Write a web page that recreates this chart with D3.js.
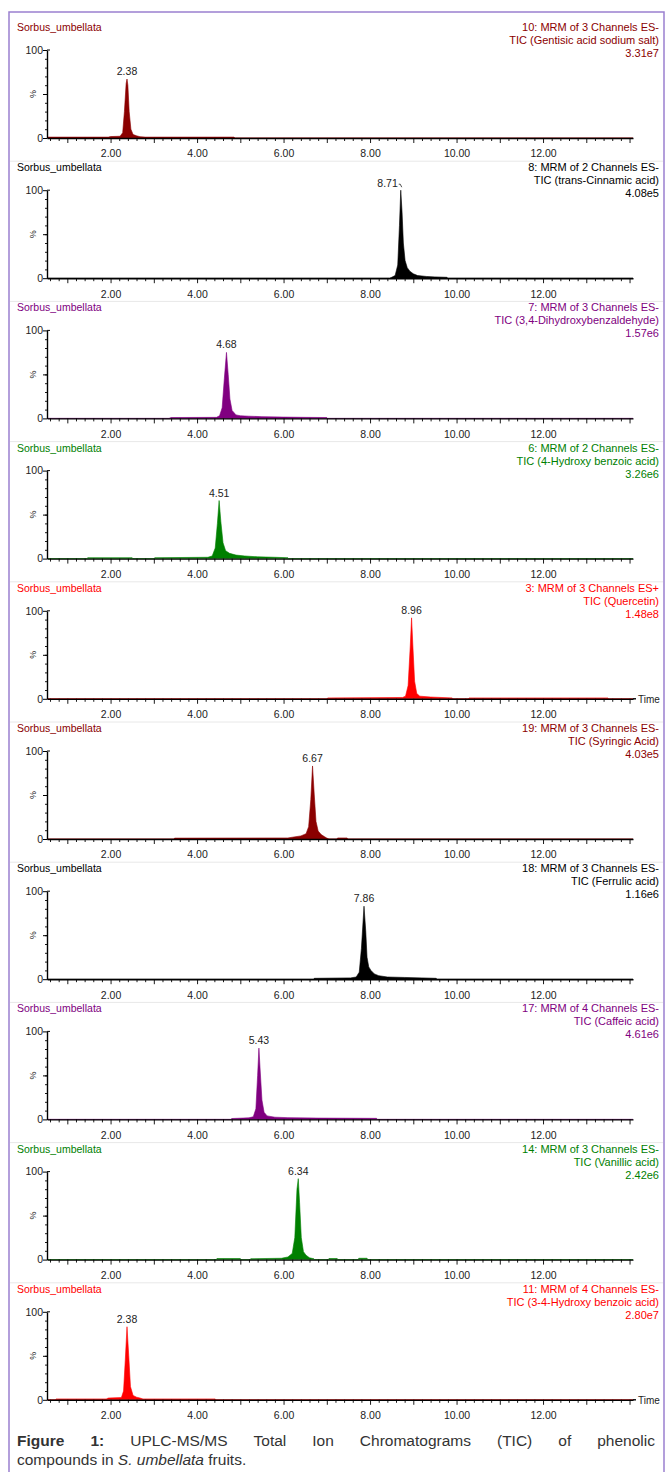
<!DOCTYPE html>
<html>
<head>
<meta charset="utf-8">
<script src="https://cdn.jsdelivr.net/npm/d3@7"></script>
<style>
body { margin: 0; background: #fff; }
svg { display: block; font-family: "Liberation Sans", Arial, sans-serif; }
</style>
</head>
<body>
<svg id="chart" width="665" height="1472"></svg>
<script>
// sample name shown top-left of each trace
const sampleName = "Sorbus_umbellata";

// right-hand header lines, one per trace
const channelLines = [
    "10: MRM of 3 Channels ES-",
    "8: MRM of 2 Channels ES-",
    "7: MRM of 3 Channels ES-",
    "6: MRM of 2 Channels ES-",
    "3: MRM of 3 Channels ES+",
    "19: MRM of 3 Channels ES-",
    "18: MRM of 3 Channels ES-",
    "17: MRM of 4 Channels ES-",
    "14: MRM of 3 Channels ES-",
    "11: MRM of 4 Channels ES-"
];
const compoundLines = [
    "TIC (Gentisic acid sodium salt)",
    "TIC (trans-Cinnamic acid)",
    "TIC (3,4-Dihydroxybenzaldehyde)",
    "TIC (4-Hydroxy benzoic acid)",
    "TIC (Quercetin)",
    "TIC (Syringic Acid)",
    "TIC (Ferrulic acid)",
    "TIC (Caffeic acid)",
    "TIC (Vanillic acid)",
    "TIC (3-4-Hydroxy benzoic acid)"
];
const intensityLabels = ["3.31e7", "4.08e5", "1.57e6", "3.26e6", "1.48e8", "4.03e5", "1.16e6", "4.61e6", "2.42e6", "2.80e7"];

// retention time of the labelled peak
const peakTimes = [2.38, 8.71, 4.68, 4.51, 8.96, 6.67, 7.86, 5.43, 6.34, 2.38];

// x axis
const timeRange = [0.53, 14.08];
const timeTickLabels = [2, 4, 6, 8, 10, 12];
const timeAxisPanels = [4, 9]; // traces that carry the "Time" label

// chromatograms: [time (min), relative intensity (%)]
const trace1 = [[0.53,0],[0.55,1],[1.95,1],[2.0,1.6],[2.22,2],[2.28,6],[2.32,30],[2.36,62],[2.38,67],[2.40,60],[2.43,30],[2.47,10],[2.52,4],[2.6,2.5],[2.68,1.5],[2.8,1],[4.85,1],[4.88,0],[14.08,0]];
const trace2 = [[0.53,0],[8.45,0],[8.5,1],[8.58,3],[8.64,15],[8.68,60],[8.71,100],[8.74,75],[8.77,40],[8.81,20],[8.86,12],[8.92,8],[9.0,5],[9.1,3],[9.3,2],[9.5,1.5],[9.78,1],[9.8,0],[14.08,0]];
const trace3 = [[0.53,0],[3.35,0],[3.4,1],[4.45,1.2],[4.52,3],[4.58,12],[4.63,45],[4.68,75],[4.72,50],[4.76,22],[4.81,9],[4.9,4],[5.0,3],[5.2,2.5],[5.5,2],[6.0,1.5],[6.5,1.2],[7.0,1],[7.02,0],[14.08,0]];
const trace4 = [[0.53,0],[1.45,0],[1.47,1],[2.5,1],[2.52,0],[3.0,0],[3.02,1],[4.25,1.5],[4.35,3],[4.42,12],[4.47,40],[4.51,66],[4.55,42],[4.6,18],[4.66,9],[4.75,6],[4.9,4],[5.1,3],[5.4,2],[5.8,1.5],[6.1,1],[6.12,0],[14.08,0]];
const trace5 = [[0.53,0],[7.0,0],[7.02,1],[8.75,1.5],[8.82,3],[8.88,15],[8.93,60],[8.96,92],[8.99,60],[9.03,20],[9.08,6],[9.15,3],[9.4,2],[9.9,1],[9.92,0],[10.27,0],[10.29,1],[13.5,1],[13.52,0],[14.08,0]];
const trace6 = [[0.53,0],[3.46,0],[3.48,1],[6.1,1.2],[6.2,2],[6.4,3.5],[6.52,6],[6.58,14],[6.63,45],[6.67,83],[6.71,50],[6.75,20],[6.8,9],[6.87,5],[6.95,2.5],[7.0,1],[7.05,0],[7.23,0],[7.25,1.2],[7.47,1.2],[7.49,0],[14.08,0]];
const trace7 = [[0.53,0],[6.69,0],[6.71,1],[7.55,1.5],[7.68,2.5],[7.75,8],[7.8,35],[7.86,83],[7.9,55],[7.93,25],[7.97,14],[8.02,10],[8.1,6],[8.2,4],[8.4,2.5],[8.8,2],[9.2,1.5],[9.53,1],[9.55,0],[14.08,0]];
const trace8 = [[0.53,0],[4.78,0],[4.8,1],[5.2,1.8],[5.3,3],[5.36,12],[5.4,50],[5.43,81],[5.46,55],[5.5,22],[5.55,8],[5.62,4],[5.8,2.5],[6.1,2],[6.8,1.5],[8.15,1.2],[8.17,0],[14.08,0]];
const trace9 = [[0.53,0],[4.44,0],[4.46,1.2],[5.0,1.2],[5.02,0],[5.22,0],[5.24,1],[5.95,1.5],[6.1,3],[6.2,7],[6.26,25],[6.31,80],[6.34,92],[6.37,65],[6.41,25],[6.46,9],[6.52,5],[6.6,2],[6.7,1],[6.72,0],[7.03,0],[7.05,1.2],[7.24,1.2],[7.26,0],[7.72,0],[7.74,1.5],[7.93,1.5],[7.95,0],[14.08,0]];
const trace10 = [[0.53,0],[0.72,0],[0.74,1],[1.9,1],[1.95,2],[2.25,2.5],[2.3,10],[2.34,45],[2.38,83],[2.42,50],[2.46,15],[2.52,5],[2.6,3],[2.68,2],[2.75,1],[4.42,1],[4.44,0],[14.08,0]];
const traces = [trace1, trace2, trace3, trace4, trace5, trace6, trace7, trace8, trace9, trace10];

// trace colours
const colours = ["#8b0000", "#000000", "#800080", "#008000", "#ff0000",
                 "#8b0000", "#000000", "#800080", "#008000", "#ff0000"];

const svg = d3.select("#chart");

// outer frame
svg.append("path")
    .attr("d", "M 9,1472 V 12 H 664 V 1472")
    .attr("fill", "none")
    .attr("stroke", "#9b80cf")
    .attr("stroke-width", 1.5);

const panelStep = 140.2;
const x = d3.scaleLinear().domain(timeRange).range([47, 633]);
const y = d3.scaleLinear().domain([0, 100]).range([138, 50]);

const majorTicks = d3.range(1, 15);
const minorTicks = d3.range(1, 70).map(k => k * 0.2).filter(t => t > timeRange[0] && t < timeRange[1] && Math.abs(t - Math.round(t)) > 0.01);

traces.forEach((trace, i) => {
    const col = colours[i];
    const g = svg.append("g").attr("transform", `translate(0,${i * panelStep})`);

    // faint separator between panels
    if (i > 0) {
        g.append("line")
            .attr("x1", 10).attr("x2", 663)
            .attr("y1", 21).attr("y2", 21)
            .attr("stroke", "#e8e8e8")
            .attr("stroke-width", 1);
    }

    // chromatogram
    const area = d3.area()
        .x(d => x(d[0]))
        .y0(y(0))
        .y1(d => y(d[1]));
    g.append("path")
        .datum(trace)
        .attr("d", area)
        .attr("fill", col)
        .attr("stroke", col)
        .attr("stroke-width", 0.6)
        .attr("stroke-linejoin", "round");

    // x axis: minor ticks
    g.append("g")
        .attr("transform", `translate(0,${y(0)})`)
        .call(d3.axisBottom(x).tickValues(minorTicks).tickSize(3).tickSizeOuter(0).tickFormat(""))
        .call(a => a.select(".domain").remove())
        .selectAll("line").attr("stroke", "#000").attr("stroke-width", 0.9);

    // x axis: major ticks and labels
    const xa = g.append("g")
        .attr("transform", `translate(0,${y(0)})`)
        .call(d3.axisBottom(x)
            .tickValues(majorTicks)
            .tickSize(5)
            .tickSizeOuter(0)
            .tickFormat(d => timeTickLabels.includes(d) ? d3.format(".2f")(d) : ""));
    xa.select(".domain").attr("stroke-width", 1.4);
    xa.selectAll("line").attr("stroke-width", 0.9);
    xa.selectAll("text")
        .attr("y", 12)
        .style("font-size", "10.5px")
        .style("fill", "#222");

    // y axis
    g.append("g")
        .attr("transform", `translate(${x(timeRange[0])},0)`)
        .call(d3.axisLeft(y).tickValues(d3.range(10, 100, 10)).tickSize(2).tickSizeOuter(0).tickFormat(""))
        .call(a => a.select(".domain").remove())
        .selectAll("line").attr("stroke-width", 0.9);
    const ya = g.append("g")
        .attr("transform", `translate(${x(timeRange[0])},0)`)
        .call(d3.axisLeft(y).tickValues([0, 50, 100]).tickSize(4).tickSizeOuter(0)
            .tickFormat(d => d === 50 ? "" : d));
    ya.select(".domain").attr("stroke-width", 1.4);
    ya.selectAll("text")
        .attr("x", -4)
        .style("font-size", "10.5px")
        .style("fill", "#222");
    // little stub at the top of the y axis
    g.append("line")
        .attr("x1", x(timeRange[0])).attr("x2", x(timeRange[0]) + 3)
        .attr("y1", y(100)).attr("y2", y(100))
        .attr("stroke", "#000").attr("stroke-width", 1);

    g.append("text")
        .attr("transform", `translate(33,${y(50)}) rotate(-90)`)
        .attr("text-anchor", "middle")
        .attr("dy", "0.35em")
        .style("font-size", "9px")
        .style("fill", "#222")
        .text("%");

    // "Time" label on the bottom trace of each group
    if (timeAxisPanels.includes(i)) {
        g.append("line")
            .attr("x1", x(timeRange[1])).attr("x2", 636)
            .attr("y1", y(0)).attr("y2", y(0))
            .attr("stroke", "#000").attr("stroke-width", 1.4);
        g.append("text")
            .attr("x", 638)
            .attr("y", y(0) + 4)
            .style("font-size", "10px")
            .style("fill", "#222")
            .text("Time");
    }

    // headers
    g.append("text")
        .attr("x", 17)
        .attr("y", 31)
        .style("font-size", "10.5px")
        .style("fill", col)
        .text(sampleName);

    [channelLines[i], compoundLines[i], intensityLabels[i]].forEach((line, k) => {
        g.append("text")
            .attr("x", 659)
            .attr("y", 31 + k * 13)
            .attr("text-anchor", "end")
            .style("font-size", "11px")
            .style("fill", col)
            .text(line);
    });

    // peak label
    const pt = peakTimes[i];
    const top = d3.max(trace, d => d[1]);
    if (top >= 99) {
        // label pushed left with a leader line
        g.append("text")
            .attr("x", x(pt) - 3)
            .attr("y", y(top) - 3)
            .attr("text-anchor", "end")
            .style("font-size", "10.5px")
            .style("fill", "#222")
            .text(pt.toFixed(2));
        g.append("path")
            .attr("d", `M ${x(pt) - 2},${y(top) - 6} H ${x(pt) - 0.5} L ${x(pt) + 1},${y(top) - 3}`)
            .attr("fill", "none")
            .attr("stroke", "#222")
            .attr("stroke-width", 0.8);
    } else {
        g.append("text")
            .attr("x", x(pt))
            .attr("y", y(top) - 4)
            .attr("text-anchor", "middle")
            .style("font-size", "10.5px")
            .style("fill", "#222")
            .text(pt.toFixed(2));
    }
});

// caption, first line justified
const captionLine1 = [
    { t: "Figure", b: true }, { t: "1:", b: true },
    { t: "UPLC-MS/MS" }, { t: "Total" }, { t: "Ion" }, { t: "Chromatograms" },
    { t: "(TIC)" }, { t: "of" }, { t: "phenolic" }
];
const cap = svg.append("g").style("font-size", "15.5px").style("fill", "#333");
const words = captionLine1.map(w => cap.append("text")
    .attr("y", 1446)
    .style("font-weight", w.b ? "bold" : "normal")
    .text(w.t));
const widths = words.map(w => w.node().getComputedTextLength());
const gap = (655 - 17 - d3.sum(widths)) / (words.length - 1);
let cx = 17;
words.forEach((w, k) => { w.attr("x", cx); cx += widths[k] + gap; });

const line2 = cap.append("text").attr("x", 17).attr("y", 1465);
line2.append("tspan").text("compounds in ");
line2.append("tspan").style("font-style", "italic").text("S. umbellata");
line2.append("tspan").text(" fruits.");
</script>
</body>
</html>
